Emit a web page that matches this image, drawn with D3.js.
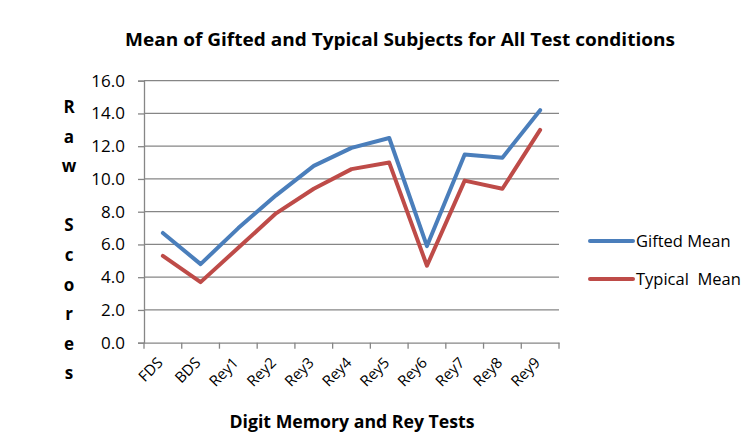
<!DOCTYPE html>
<html>
<head>
<meta charset="utf-8">
<script src="https://cdn.jsdelivr.net/npm/d3@7"></script>
<style>
  body { margin: 0; background: #fff; }
  text { font-family: "Open Sans", "Noto Sans", sans-serif; fill: #000; }
</style>
</head>
<body>
<div id="chart"></div>
<script>
// data
const categories = ["FDS", "BDS", "Rey1", "Rey2", "Rey3", "Rey4", "Rey5", "Rey6", "Rey7", "Rey8", "Rey9"];
const giftedMean = [6.7, 4.8, 7.0, 9.0, 10.8, 11.9, 12.5, 5.9, 11.5, 11.3, 14.2];
const typicalMean = [5.3, 3.7, 5.8, 7.9, 9.4, 10.6, 11.0, 4.7, 9.9, 9.4, 13.0];
const yTicks = [0, 2, 4, 6, 8, 10, 12, 14, 16];
const seriesNames = ["Gifted Mean", "Typical  Mean"];
const seriesColors = ["#4a7ebb", "#be4b48"];

const width = 752, height = 433;
const plotLeft = 144, plotRight = 559, plotTop = 80.7, plotBottom = 342.7;

const svg = d3.select("#chart").append("svg")
  .attr("width", width)
  .attr("height", height);

const x = d3.scaleBand().domain(categories).range([plotLeft, plotRight]);
const y = d3.scaleLinear().domain([0, 16]).range([plotBottom, plotTop]);

// title
svg.append("text")
  .attr("x", 400).attr("y", 46)
  .attr("text-anchor", "middle")
  .attr("font-size", 18.5).attr("font-weight", "bold")
  .attr("textLength", 550).attr("lengthAdjust", "spacingAndGlyphs")
  .text("Mean of Gifted and Typical Subjects for All Test conditions");

// y axis with ticks + gridlines
const yAxis = svg.append("g")
  .attr("transform", `translate(${plotLeft},0)`)
  .call(d3.axisLeft(y).tickValues(yTicks).tickSize(6).tickFormat(d3.format(".1f")));
yAxis.select(".domain").attr("stroke", "#868686").attr("stroke-width", 1.3);
yAxis.selectAll(".tick line").attr("stroke", "#868686").attr("stroke-width", 1.3);
yAxis.selectAll(".tick text")
  .attr("x", -19)
  .style("font-size", "17px")
  .style("font-family", "'Open Sans', sans-serif");

svg.append("g").selectAll("line")
  .data(yTicks.filter(d => d > 0))
  .join("line")
  .attr("x1", plotLeft).attr("x2", plotRight)
  .attr("y1", d => y(d)).attr("y2", d => y(d))
  .attr("stroke", "#868686").attr("stroke-width", 1.3);

// x axis
const xAxis = svg.append("g")
  .attr("transform", `translate(0,${plotBottom})`)
  .call(d3.axisBottom(x).tickSize(0).tickFormat(""));
xAxis.select(".domain").attr("stroke", "#868686").attr("stroke-width", 1.3);

// category boundary ticks
const bounds = categories.map(c => x(c)).concat([plotRight]);
svg.append("g").selectAll("line")
  .data(bounds)
  .join("line")
  .attr("x1", d => d).attr("x2", d => d)
  .attr("y1", plotBottom).attr("y2", plotBottom + 6)
  .attr("stroke", "#868686").attr("stroke-width", 1.3);

svg.append("g").selectAll("text")
  .data(categories)
  .join("text")
  .attr("transform", d => `translate(${x(d) + x.bandwidth() / 2 + 1},${plotBottom + 21}) rotate(-45)`)
  .attr("text-anchor", "end")
  .attr("font-size", 15)
  .text(d => d);

// axis titles
svg.append("text")
  .attr("x", 352).attr("y", 428)
  .attr("text-anchor", "middle")
  .attr("font-size", 17).attr("font-weight", "bold")
  .attr("textLength", 245).attr("lengthAdjust", "spacingAndGlyphs")
  .text("Digit Memory and Rey Tests");

const yLabel = "Raw Scores".split("");
svg.append("g").selectAll("text")
  .data(yLabel)
  .join("text")
  .attr("x", 69)
  .attr("y", (d, i) => 113 + i * 29.6)
  .attr("text-anchor", "middle")
  .attr("font-size", 17).attr("font-weight", "bold")
  .text(d => d);

// series lines
const line = d3.line()
  .x((d, i) => x(categories[i]) + x.bandwidth() / 2)
  .y(d => y(d));

[giftedMean, typicalMean].forEach((s, i) => {
  svg.append("path")
    .datum(s)
    .attr("fill", "none")
    .attr("stroke", seriesColors[i])
    .attr("stroke-width", 4)
    .attr("stroke-linejoin", "round")
    .attr("stroke-linecap", "round")
    .attr("d", line);
});

// legend
const legend = svg.append("g").selectAll("g")
  .data(seriesNames)
  .join("g")
  .attr("transform", (d, i) => `translate(590,${241 + i * 38})`);
legend.append("line")
  .attr("x1", 0).attr("x2", 43)
  .attr("stroke", (d, i) => seriesColors[i])
  .attr("stroke-width", 4)
  .attr("stroke-linecap", "round");
legend.append("text")
  .attr("x", 46).attr("y", 6)
  .attr("font-size", 16.5)
  .style("white-space", "pre")
  .text(d => d);
</script>
</body>
</html>
